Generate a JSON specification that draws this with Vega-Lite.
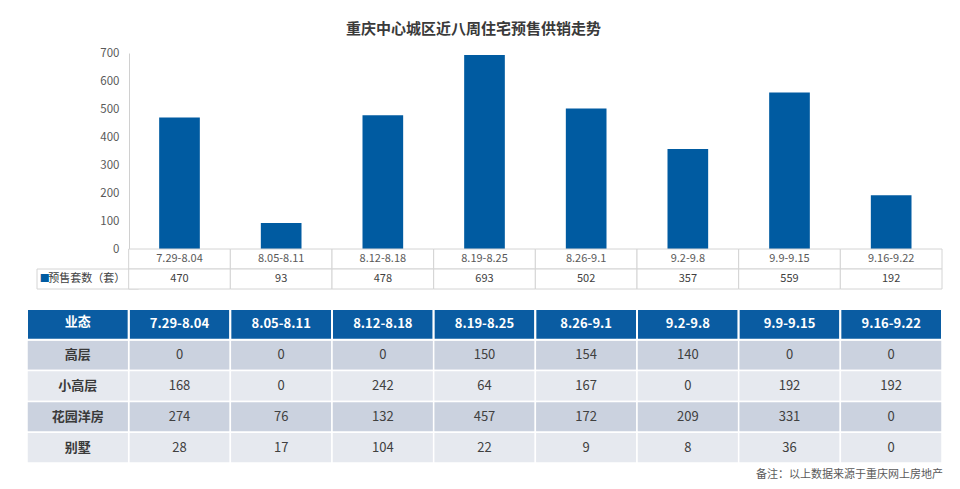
{
  "$schema": "https://vega.github.io/schema/vega-lite/v6.json",
  "autosize": {"type": "pad"},
  "padding": {"left": 26, "top": 22, "right": 5, "bottom": 2},
  "background": "white",
  "bounds": "flush",
  "spacing": 0,
  "title": {"text": "重庆中心城区近八周住宅预售供销走势", "fontSize": 15, "font": "Noto Sans CJK SC", "fontWeight": "bold", "color": "#3a3a3a", "anchor": "middle", "dx": -11, "offset": 10},
  "config": {"view": {"stroke": null}, "font": "Noto Sans CJK SC"},
  "resolve": {"scale": {"x": "independent", "y": "independent", "color": "independent"}},
  "datasets": {
    "weeks": [
      {"week": "7.29-8.04", "presale": 470},
      {"week": "8.05-8.11", "presale": 93},
      {"week": "8.12-8.18", "presale": 478},
      {"week": "8.19-8.25", "presale": 693},
      {"week": "8.26-9.1", "presale": 502},
      {"week": "9.2-9.8", "presale": 357},
      {"week": "9.9-9.15", "presale": 559},
      {"week": "9.16-9.22", "presale": 192}
    ],
    "types": [
      {"row": "高层"}, {"row": "小高层"}, {"row": "花园洋房"}, {"row": "别墅"}
    ],
    "cells": [
      {"row": "高层", "week": "7.29-8.04", "units": 0},
      {"row": "高层", "week": "8.05-8.11", "units": 0},
      {"row": "高层", "week": "8.12-8.18", "units": 0},
      {"row": "高层", "week": "8.19-8.25", "units": 150},
      {"row": "高层", "week": "8.26-9.1", "units": 154},
      {"row": "高层", "week": "9.2-9.8", "units": 140},
      {"row": "高层", "week": "9.9-9.15", "units": 0},
      {"row": "高层", "week": "9.16-9.22", "units": 0},
      {"row": "小高层", "week": "7.29-8.04", "units": 168},
      {"row": "小高层", "week": "8.05-8.11", "units": 0},
      {"row": "小高层", "week": "8.12-8.18", "units": 242},
      {"row": "小高层", "week": "8.19-8.25", "units": 64},
      {"row": "小高层", "week": "8.26-9.1", "units": 167},
      {"row": "小高层", "week": "9.2-9.8", "units": 0},
      {"row": "小高层", "week": "9.9-9.15", "units": 192},
      {"row": "小高层", "week": "9.16-9.22", "units": 192},
      {"row": "花园洋房", "week": "7.29-8.04", "units": 274},
      {"row": "花园洋房", "week": "8.05-8.11", "units": 76},
      {"row": "花园洋房", "week": "8.12-8.18", "units": 132},
      {"row": "花园洋房", "week": "8.19-8.25", "units": 457},
      {"row": "花园洋房", "week": "8.26-9.1", "units": 172},
      {"row": "花园洋房", "week": "9.2-9.8", "units": 209},
      {"row": "花园洋房", "week": "9.9-9.15", "units": 331},
      {"row": "花园洋房", "week": "9.16-9.22", "units": 0},
      {"row": "别墅", "week": "7.29-8.04", "units": 28},
      {"row": "别墅", "week": "8.05-8.11", "units": 17},
      {"row": "别墅", "week": "8.12-8.18", "units": 104},
      {"row": "别墅", "week": "8.19-8.25", "units": 22},
      {"row": "别墅", "week": "8.26-9.1", "units": 9},
      {"row": "别墅", "week": "9.2-9.8", "units": 8},
      {"row": "别墅", "week": "9.9-9.15", "units": 36},
      {"row": "别墅", "week": "9.16-9.22", "units": 0}
    ]
  },
  "vconcat": [
    {
      "width": 915,
      "height": 196,
      "data": {"name": "weeks"},
      "mark": {"type": "bar", "color": "#005BA1", "width": {"band": 0.4}},
      "encoding": {
        "x": {"field": "week", "type": "nominal", "sort": null, "axis": null,
              "scale": {"domain": ["业态", "7.29-8.04", "8.05-8.11", "8.12-8.18", "8.19-8.25", "8.26-9.1", "9.2-9.8", "9.9-9.15", "9.16-9.22"], "paddingInner": 0, "paddingOuter": 0}},
        "y": {"field": "presale", "type": "quantitative",
              "scale": {"domain": [0, 700], "nice": false},
              "axis": {"values": [0, 100, 200, 300, 400, 500, 600, 700], "offset": -102, "ticks": false, "labelPadding": 10, "grid": false, "title": null,
                       "domainColor": "#d0d0d0", "labelColor": "#595959", "labelFontSize": 11.5, "labelFont": "Noto Sans CJK SC"}}
      }
    },
    {
      "width": 915,
      "height": 60,
      "data": {"name": "weeks"},
      "encoding": {
        "x": {"field": "week", "type": "nominal", "sort": null, "axis": null,
              "scale": {"domain": ["业态", "7.29-8.04", "8.05-8.11", "8.12-8.18", "8.19-8.25", "8.26-9.1", "9.2-9.8", "9.9-9.15", "9.16-9.22"], "paddingInner": 0, "paddingOuter": 0}}
      },
      "layer": [
        {
          "data": {"values": [{"week": "业态", "label": "预售套数（套）"}]},
          "mark": {"type": "rect", "fill": "white", "stroke": "#d4d4d4", "strokeWidth": 1, "xOffset": 10},
          "encoding": {"y": {"datum": "val", "type": "nominal", "axis": null, "scale": {"domain": ["cat", "val", "gap"], "paddingInner": 0, "paddingOuter": 0}}}
        },
        {
          "mark": {"type": "rect", "fill": "white", "stroke": "#d4d4d4", "strokeWidth": 1},
          "encoding": {"y": {"datum": "cat", "type": "nominal"}}
        },
        {
          "mark": {"type": "rect", "fill": "white", "stroke": "#d4d4d4", "strokeWidth": 1},
          "encoding": {"y": {"datum": "val", "type": "nominal"}}
        },
        {
          "mark": {"type": "text", "fontSize": 11, "color": "#595959"},
          "encoding": {"y": {"datum": "cat", "type": "nominal"}, "text": {"field": "week"}}
        },
        {
          "mark": {"type": "text", "fontSize": 11, "color": "#404040"},
          "encoding": {"y": {"datum": "val", "type": "nominal"}, "text": {"field": "presale"}}
        },
        {
          "data": {"values": [{"week": "业态", "label": "预售套数（套）"}]},
          "mark": {"type": "text", "fontSize": 11, "color": "#404040", "dx": 9},
          "encoding": {"y": {"datum": "val", "type": "nominal"}, "text": {"field": "label"}}
        },
        {
          "data": {"values": [{"week": "业态", "label": "■"}]},
          "mark": {"type": "text", "fontSize": 10, "color": "#005BA1", "dx": -33},
          "encoding": {"y": {"datum": "val", "type": "nominal"}, "text": {"field": "label"}}
        }
      ]
    },
    {
      "width": 915,
      "height": 154,
      "title": {"text": "备注：以上数据来源于重庆网上房地产", "orient": "bottom", "anchor": "end", "fontSize": 11, "fontWeight": "normal", "color": "#595959", "offset": 5, "font": "Noto Sans CJK SC"},
      "layer": [
        {
          "data": {"name": "cells"},
          "mark": {"type": "rect", "stroke": "white", "strokeWidth": 1.5},
          "encoding": {
            "x": {"field": "week", "type": "nominal", "sort": null, "axis": null,
                  "scale": {"domain": ["业态", "7.29-8.04", "8.05-8.11", "8.12-8.18", "8.19-8.25", "8.26-9.1", "9.2-9.8", "9.9-9.15", "9.16-9.22"], "paddingInner": 0, "paddingOuter": 0}},
            "y": {"field": "row", "type": "nominal", "axis": null, "sort": null,
                  "scale": {"domain": ["header", "高层", "小高层", "花园洋房", "别墅"], "paddingInner": 0, "paddingOuter": 0}},
            "color": {"field": "row", "type": "nominal", "legend": null,
                      "scale": {"domain": ["高层", "小高层", "花园洋房", "别墅"], "range": ["#CBD2DF", "#E6E9EF", "#CBD2DF", "#E6E9EF"]}}
          }
        },
        {
          "data": {"name": "types"},
          "mark": {"type": "rect", "stroke": "white", "strokeWidth": 1.5},
          "encoding": {
            "x": {"datum": "业态", "type": "nominal"},
            "y": {"field": "row", "type": "nominal"},
            "color": {"field": "row", "type": "nominal", "legend": null}
          }
        },
        {
          "data": {"name": "weeks"},
          "mark": {"type": "rect", "fill": "#0A5CA2", "stroke": "white", "strokeWidth": 2},
          "encoding": {
            "x": {"field": "week", "type": "nominal"},
            "y": {"datum": "header", "type": "nominal"}
          }
        },
        {
          "data": {"values": [{"week": "业态"}]},
          "mark": {"type": "rect", "fill": "#0A5CA2", "stroke": "white", "strokeWidth": 2},
          "encoding": {
            "x": {"field": "week", "type": "nominal"},
            "y": {"datum": "header", "type": "nominal"}
          }
        },
        {
          "data": {"name": "weeks"},
          "mark": {"type": "text", "fontSize": 13, "fontWeight": "bold", "color": "white"},
          "encoding": {
            "x": {"field": "week", "type": "nominal"},
            "y": {"datum": "header", "type": "nominal"},
            "text": {"field": "week"}
          }
        },
        {
          "data": {"values": [{"week": "业态"}]},
          "mark": {"type": "text", "fontSize": 13, "fontWeight": "bold", "color": "white", "dy": -2},
          "encoding": {
            "x": {"field": "week", "type": "nominal"},
            "y": {"datum": "header", "type": "nominal"},
            "text": {"field": "week"}
          }
        },
        {
          "data": {"name": "types"},
          "mark": {"type": "text", "fontSize": 13, "fontWeight": "bold", "color": "#3a3a3a"},
          "encoding": {
            "x": {"datum": "业态", "type": "nominal"},
            "y": {"field": "row", "type": "nominal"},
            "text": {"field": "row"}
          }
        },
        {
          "data": {"name": "cells"},
          "mark": {"type": "text", "fontSize": 13, "color": "#404040"},
          "encoding": {
            "x": {"field": "week", "type": "nominal"},
            "y": {"field": "row", "type": "nominal"},
            "text": {"field": "units"}
          }
        }
      ]
    }
  ]
}
